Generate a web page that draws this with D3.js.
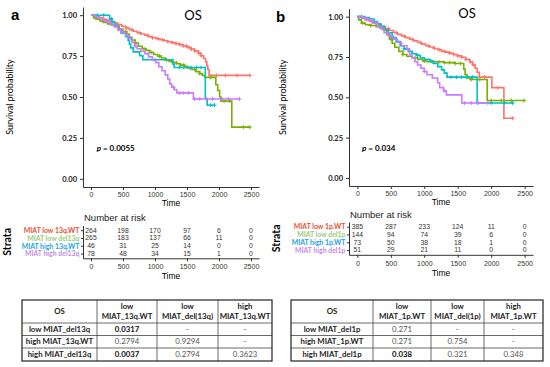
<!DOCTYPE html>
<html><head><meta charset="utf-8">
<script src="https://cdn.jsdelivr.net/npm/d3@7"></script>
<style>body{margin:0;background:#fff}svg{display:block}</style>
</head><body>
<svg id="c" width="550" height="367"></svg>
<script>
// ---------------- DATA ----------------
const xTicks = [0, 500, 1000, 1500, 2000, 2500];
const yTicks = [0, 0.25, 0.5, 0.75, 1];
const riskTimes = [0, 500, 1000, 1500, 2000, 2500];
const seriesColors = ["#F8766D", "#7CAE00", "#00BFC4", "#C77CFF"];
const labelColors = ["#E8502E", "#9CCB78", "#1BA3E8", "#C28BE8"];

// Panel a
const strataA = ["MIAT low 13q.WT", "MIAT low del13q", "MIAT high 13q.WT", "MIAT high del13q"];
const a_lowWT = [[0,1],[60,0.99],[120,0.985],[180,0.975],[240,0.97],[300,0.962],[360,0.952],[420,0.942],[480,0.932],[540,0.922],[600,0.912],[660,0.902],[720,0.893],[780,0.885],[840,0.877],[900,0.869],[960,0.862],[1020,0.856],[1080,0.85],[1140,0.844],[1200,0.838],[1260,0.832],[1320,0.826],[1380,0.82],[1440,0.812],[1500,0.803],[1560,0.793],[1620,0.782],[1680,0.768],[1720,0.752],[1760,0.735],[1790,0.715],[1810,0.69],[1825,0.668],[1845,0.632],[2490,0.632]];
const a_lowDel = [[0,1],[40,0.985],[80,0.975],[140,0.965],[200,0.955],[260,0.947],[320,0.94],[380,0.93],[440,0.915],[500,0.9],[560,0.885],[600,0.865],[640,0.848],[690,0.83],[740,0.81],[800,0.795],[860,0.785],[920,0.772],[980,0.76],[1040,0.75],[1100,0.738],[1160,0.727],[1220,0.718],[1280,0.71],[1340,0.703],[1400,0.695],[1460,0.685],[1520,0.677],[1580,0.668],[1640,0.655],[1700,0.643],[1740,0.632],[1780,0.62],[1950,0.575],[1980,0.54],[2010,0.5],[2030,0.475],[2200,0.316],[2490,0.316]];
const a_highWT = [[0,1],[280,1],[290,0.978],[330,0.956],[380,0.934],[430,0.912],[470,0.89],[540,0.868],[580,0.845],[600,0.823],[620,0.8],[660,0.776],[760,0.752],[810,0.728],[1260,0.728],[1280,0.7],[1300,0.68],[1786,0.49],[1815,0.45],[1940,0.45]];
const a_highDel = [[0,1],[60,0.99],[120,0.98],[180,0.97],[240,0.96],[300,0.945],[360,0.93],[420,0.91],[480,0.895],[540,0.875],[600,0.855],[640,0.835],[680,0.81],[720,0.795],[780,0.78],[840,0.765],[900,0.745],[960,0.725],[1010,0.71],[1060,0.685],[1110,0.66],[1160,0.635],[1200,0.61],[1230,0.58],[1260,0.56],[1300,0.545],[1340,0.525],[1580,0.525],[1600,0.488],[2330,0.488]];
const a_censor = [
  [90,200,310,420,560,640,760,880,960,1050,1120,1200,1270,1330,1390,1440,1490,1530,1570,1620,1680,1720,1960,2100,2280,2480],
  [60,180,300,420,540,700,830,950,1070,1180,1260,1330,1400,1450,1500,1560,1620,1700,1870,2080,2170,2380,2480],
  [100,200,320,1000,1380,1450,1560,1650,1720,1870,1930],
  [110,250,470,700,890,1290,1380,1440,1520,1620,1700,1800,1900,2050,2150,2320]
];
const riskA = [[264,198,170,97,6,0],[265,183,137,66,11,0],[46,31,25,14,0,0],[78,48,34,15,1,0]];
const pA = "0.0055";

// Panel b
const strataB = ["MIAT low 1p.WT", "MIAT low del1p", "MIAT high 1p.WT", "MIAT high del1p"];
const b_lowWT = [[0,1],[60,0.99],[120,0.98],[180,0.97],[240,0.96],[300,0.948],[360,0.938],[420,0.926],[480,0.914],[540,0.902],[600,0.89],[660,0.88],[720,0.87],[780,0.86],[840,0.85],[900,0.84],[960,0.83],[1020,0.82],[1080,0.812],[1140,0.803],[1200,0.795],[1260,0.785],[1320,0.78],[1380,0.773],[1440,0.765],[1500,0.757],[1560,0.748],[1620,0.735],[1680,0.72],[1720,0.7],[1760,0.68],[1790,0.655],[1820,0.625],[2010,0.56],[2190,0.37],[2335,0.37]];
const b_lowDel = [[0,1],[20,0.98],[60,0.96],[120,0.95],[200,0.945],[280,0.938],[340,0.93],[400,0.915],[440,0.89],[480,0.86],[520,0.835],[560,0.81],[620,0.785],[680,0.765],[740,0.755],[820,0.745],[900,0.735],[980,0.725],[1040,0.72],[1300,0.715],[1460,0.71],[1590,0.675],[1610,0.64],[1640,0.62],[1700,0.61],[1940,0.48],[2510,0.48]];
const b_highWT = [[0,1],[100,0.995],[180,0.985],[250,0.97],[300,0.955],[350,0.94],[400,0.92],[460,0.9],[520,0.87],[580,0.845],[640,0.82],[700,0.8],[760,0.785],[820,0.77],[880,0.76],[940,0.745],[1000,0.735],[1080,0.725],[1140,0.71],[1200,0.69],[1260,0.67],[1300,0.65],[1340,0.625],[1790,0.465],[2335,0.465]];
const b_highDel = [[0,1],[80,0.99],[150,0.98],[230,0.96],[300,0.94],[360,0.92],[400,0.9],[460,0.88],[540,0.86],[600,0.84],[660,0.82],[740,0.8],[780,0.765],[810,0.745],[860,0.72],[900,0.7],[950,0.68],[1000,0.66],[1040,0.64],[1120,0.62],[1200,0.59],[1230,0.56],[1290,0.54],[1330,0.515],[1560,0.465],[1960,0.465]];
const b_censor = [
  [100,220,340,460,580,700,820,940,1060,1150,1230,1300,1380,1440,1500,1560,1620,1690,1740,1900,2100,2320],
  [80,200,330,500,680,860,1000,1120,1220,1300,1380,1460,1540,1700,1830,2000,2150,2300,2490],
  [60,180,300,520,700,900,1100,1400,1480,1560,1640,1720,1800,2000,2200,2320],
  [120,280,500,1000,1300,1600,1700,1800,1950]
];
const riskB = [[385,287,233,124,11,0],[144,94,74,39,6,0],[73,50,38,18,1,0],[51,29,21,11,0,0]];
const pB = "0.034";

// Pairwise tables
const tableA_head = [["OS"], ["low","MIAT_13q.WT"], ["low","MIAT_del(13q)"], ["high","MIAT_13q.WT"]];
const tableA_rows = ["low MIAT_del13q", "high MIAT_13q.WT", "high MIAT_del13q"];
const tableA_vals = [["0.0317","-","-"],["0.2794","0.9294","-"],["0.0037","0.2794","0.3623"]];
const tableA_bold = [[true,false,false],[false,false,false],[true,false,false]];
const tableB_head = [["OS"], ["low","MIAT_1p.WT"], ["low","MIAT_del(1p)"], ["high","MIAT_1p.WT"]];
const tableB_rows = ["low MIAT_del1p", "high MIAT_1p.WT", "high MIAT_del1p"];
const tableB_vals = [["0.271","-","-"],["0.271","0.754","-"],["0.038","0.321","0.348"]];
const tableB_bold = [[false,false,false],[false,false,false],[true,false,false]];

// ---------------- DRAW ----------------
const svg = d3.select("#c");
const CAL = "Lato, 'Open Sans', sans-serif";
const ARI = "'Liberation Sans', Arial, sans-serif";

function stepValue(curve, t) {
  let v = curve[0][1];
  for (const p of curve) { if (p[0] <= t) v = p[1]; else break; }
  return v;
}

function panel(cfg) {
  const g = svg.append("g");
  const x = d3.scaleLinear().domain([-125, 2625]).range([cfg.left, cfg.right]);
  const y = d3.scaleLinear().domain([-0.05, 1.05]).range([cfg.bottom, cfg.top]);

  g.append("text").attr("x", cfg.letterX).attr("y", cfg.letterY).text(cfg.letter)
    .attr("font-family", ARI).attr("font-weight", "bold").attr("font-size", 15);
  g.append("text").attr("x", cfg.titleX).attr("y", cfg.titleY).attr("text-anchor", "middle")
    .text("OS").attr("font-family", CAL).attr("font-size", 13);

  const ya = g.append("g").attr("transform", `translate(${cfg.left},0)`)
    .call(d3.axisLeft(y).tickValues(yTicks).tickFormat(d3.format(".2f")).tickSize(3).tickSizeOuter(0));
  const xa = g.append("g").attr("transform", `translate(0,${cfg.bottom})`)
    .call(d3.axisBottom(x).tickValues(xTicks).tickFormat(d3.format("d")).tickSize(3).tickSizeOuter(0));
  ya.selectAll("text").attr("font-family", CAL).attr("font-weight", "bold").attr("font-size", 7.5).attr("fill", "#222");
  xa.selectAll("text").attr("font-family", ARI).attr("font-size", 7).attr("fill", "#333").attr("dy", "0.6em");
  [ya, xa].forEach(a => { a.select(".domain").attr("stroke", "#333"); a.selectAll("line").attr("stroke", "#333"); });

  g.append("text").attr("transform", `translate(${cfg.ylabX},${(cfg.top + cfg.bottom) / 2}) rotate(-90)`)
    .attr("text-anchor", "middle").text("Survival probability")
    .attr("font-family", CAL).attr("font-size", 9);
  g.append("text").attr("x", (cfg.left + cfg.right) / 2).attr("y", cfg.bottom + 19)
    .attr("text-anchor", "middle").text("Time").attr("font-family", ARI).attr("font-size", 8.5);

  const pt = g.append("text").attr("x", x(cfg.pTime)).attr("y", y(cfg.pSurv))
    .attr("font-family", CAL).attr("font-weight", "bold").attr("font-size", 8);
  pt.append("tspan").attr("font-style", "italic").text("p");
  pt.append("tspan").text(" = " + cfg.p);

  const line = d3.line().x(d => x(d[0])).y(d => y(d[1])).curve(d3.curveStepAfter);
  cfg.curves.forEach((c, i) => {
    g.append("path").attr("d", line(c)).attr("fill", "none")
      .attr("stroke", seriesColors[i]).attr("stroke-width", 1.6);
    g.selectAll(null).data(cfg.censor[i]).enter().append("path")
      .attr("transform", t => `translate(${x(t)},${y(stepValue(c, t))})`)
      .attr("d", "M-2,0H2M0,-2V2").attr("stroke", seriesColors[i]).attr("stroke-width", 1);
  });

  // risk table
  g.append("text").attr("x", cfg.left + 1).attr("y", cfg.nrY).text("Number at risk")
    .attr("font-family", ARI).attr("font-size", 9.5).attr("fill", "#222");
  const ry = d3.scalePoint().domain(cfg.strata).range([cfg.rTop, cfg.rBottom]).padding(0.6);
  const ra = g.append("g").attr("transform", `translate(${cfg.left},0)`)
    .call(d3.axisLeft(ry).tickSize(2).tickPadding(1.5).tickSizeOuter(0));
  ra.selectAll("text").attr("font-family", CAL).attr("font-weight", "bold").attr("font-size", 6.9)
    .attr("fill", (d, i) => labelColors[i]);
  const rxa = g.append("g").attr("transform", `translate(0,${cfg.rBottom})`)
    .call(d3.axisBottom(x).tickValues(xTicks).tickFormat(d3.format("d")).tickSize(3).tickSizeOuter(0));
  rxa.selectAll("text").attr("font-family", ARI).attr("font-size", 7).attr("fill", "#333").attr("dy", "0.7em");
  [ra, rxa].forEach(a => { a.select(".domain").attr("stroke", "#333"); a.selectAll("line").attr("stroke", "#333"); });
  g.append("text").attr("x", (cfg.left + cfg.right) / 2).attr("y", cfg.rBottom + 21)
    .attr("text-anchor", "middle").text("Time").attr("font-family", ARI).attr("font-size", 8.5);
  cfg.risk.forEach((row, i) => {
    g.selectAll(null).data(row).enter().append("text")
      .attr("x", (d, j) => x(riskTimes[j])).attr("y", ry(cfg.strata[i]))
      .attr("dy", "0.35em").attr("text-anchor", "middle").text(d => d)
      .attr("font-family", ARI).attr("font-size", 6.8).attr("fill", "#333");
  });
  g.append("text").attr("transform", `translate(${cfg.strataX},${(cfg.rTop + cfg.rBottom) / 2}) rotate(-90)`)
    .attr("text-anchor", "middle").text("Strata").attr("font-family", CAL)
    .attr("font-weight", "bold").attr("font-size", 10.5);
}

panel({ letter: "a", letterX: 11, letterY: 20, titleX: 193, titleY: 20,
  left: 83, right: 259, top: 7, bottom: 187, ylabX: 13, pTime: 90, pSurv: 0.17, p: pA,
  curves: [a_lowWT, a_lowDel, a_highWT, a_highDel], censor: a_censor,
  nrY: 221, strata: strataA, rTop: 225.5, rBottom: 258.3, risk: riskA, strataX: 11 });

panel({ letter: "b", letterX: 276, letterY: 22, titleX: 467, titleY: 18,
  left: 349, right: 533, top: 8.6, bottom: 186, ylabX: 286, pTime: 70, pSurv: 0.17, p: pB,
  curves: [b_lowWT, b_lowDel, b_highWT, b_highDel], censor: b_censor,
  nrY: 218, strata: strataB, rTop: 222, rBottom: 254.8, risk: riskB, strataX: 280 });

function table(xs, ys, head, rows, vals, bold) {
  const g = svg.append("g");
  const W = xs[xs.length - 1] - xs[0], H = ys[ys.length - 1] - ys[0];
  for (let i = 1; i < ys.length - 1; i++)
    g.append("line").attr("x1", xs[0]).attr("x2", xs[xs.length - 1]).attr("y1", ys[i]).attr("y2", ys[i])
      .attr("stroke", "#444").attr("stroke-width", 0.8);
  for (let j = 1; j < xs.length - 1; j++)
    g.append("line").attr("x1", xs[j]).attr("x2", xs[j]).attr("y1", ys[0]).attr("y2", ys[ys.length - 1])
      .attr("stroke", "#444").attr("stroke-width", 0.8);
  g.append("rect").attr("x", xs[0]).attr("y", ys[0]).attr("width", W).attr("height", H)
    .attr("fill", "none").attr("stroke", "#222").attr("stroke-width", 1.2);
  head.forEach((h, j) => {
    const cx = (xs[j] + xs[j + 1]) / 2, cy = (ys[0] + ys[1]) / 2;
    h.forEach((s, k) => {
      g.append("text").attr("x", cx).attr("y", cy + (k - (h.length - 1) / 2) * 9.5).attr("dy", "0.35em")
        .attr("text-anchor", "middle").text(s).attr("font-family", CAL).attr("font-weight", "bold")
        .attr("font-size", 7.8).attr("fill", "#222");
    });
  });
  rows.forEach((r, i) => {
    const cy = (ys[i + 1] + ys[i + 2]) / 2;
    g.append("text").attr("x", (xs[0] + xs[1]) / 2).attr("y", cy).attr("dy", "0.35em")
      .attr("text-anchor", "middle").text(r).attr("font-family", CAL).attr("font-weight", "bold")
      .attr("font-size", 7.8).attr("fill", "#222");
    vals[i].forEach((v, j) => {
      g.append("text").attr("x", (xs[j + 1] + xs[j + 2]) / 2).attr("y", cy).attr("dy", "0.35em")
        .attr("text-anchor", "middle").text(v).attr("font-family", CAL)
        .attr("font-weight", bold[i][j] ? "bold" : "normal")
        .attr("font-size", 7.8).attr("fill", bold[i][j] ? "#111" : "#555");
    });
  });
}
table([22, 97, 157, 218, 272], [300, 323, 335.5, 348, 361], tableA_head, tableA_rows, tableA_vals, tableA_bold);
table([291, 373, 431, 484, 543], [300, 323, 335.5, 348, 361], tableB_head, tableB_rows, tableB_vals, tableB_bold);
</script>
</body></html>
